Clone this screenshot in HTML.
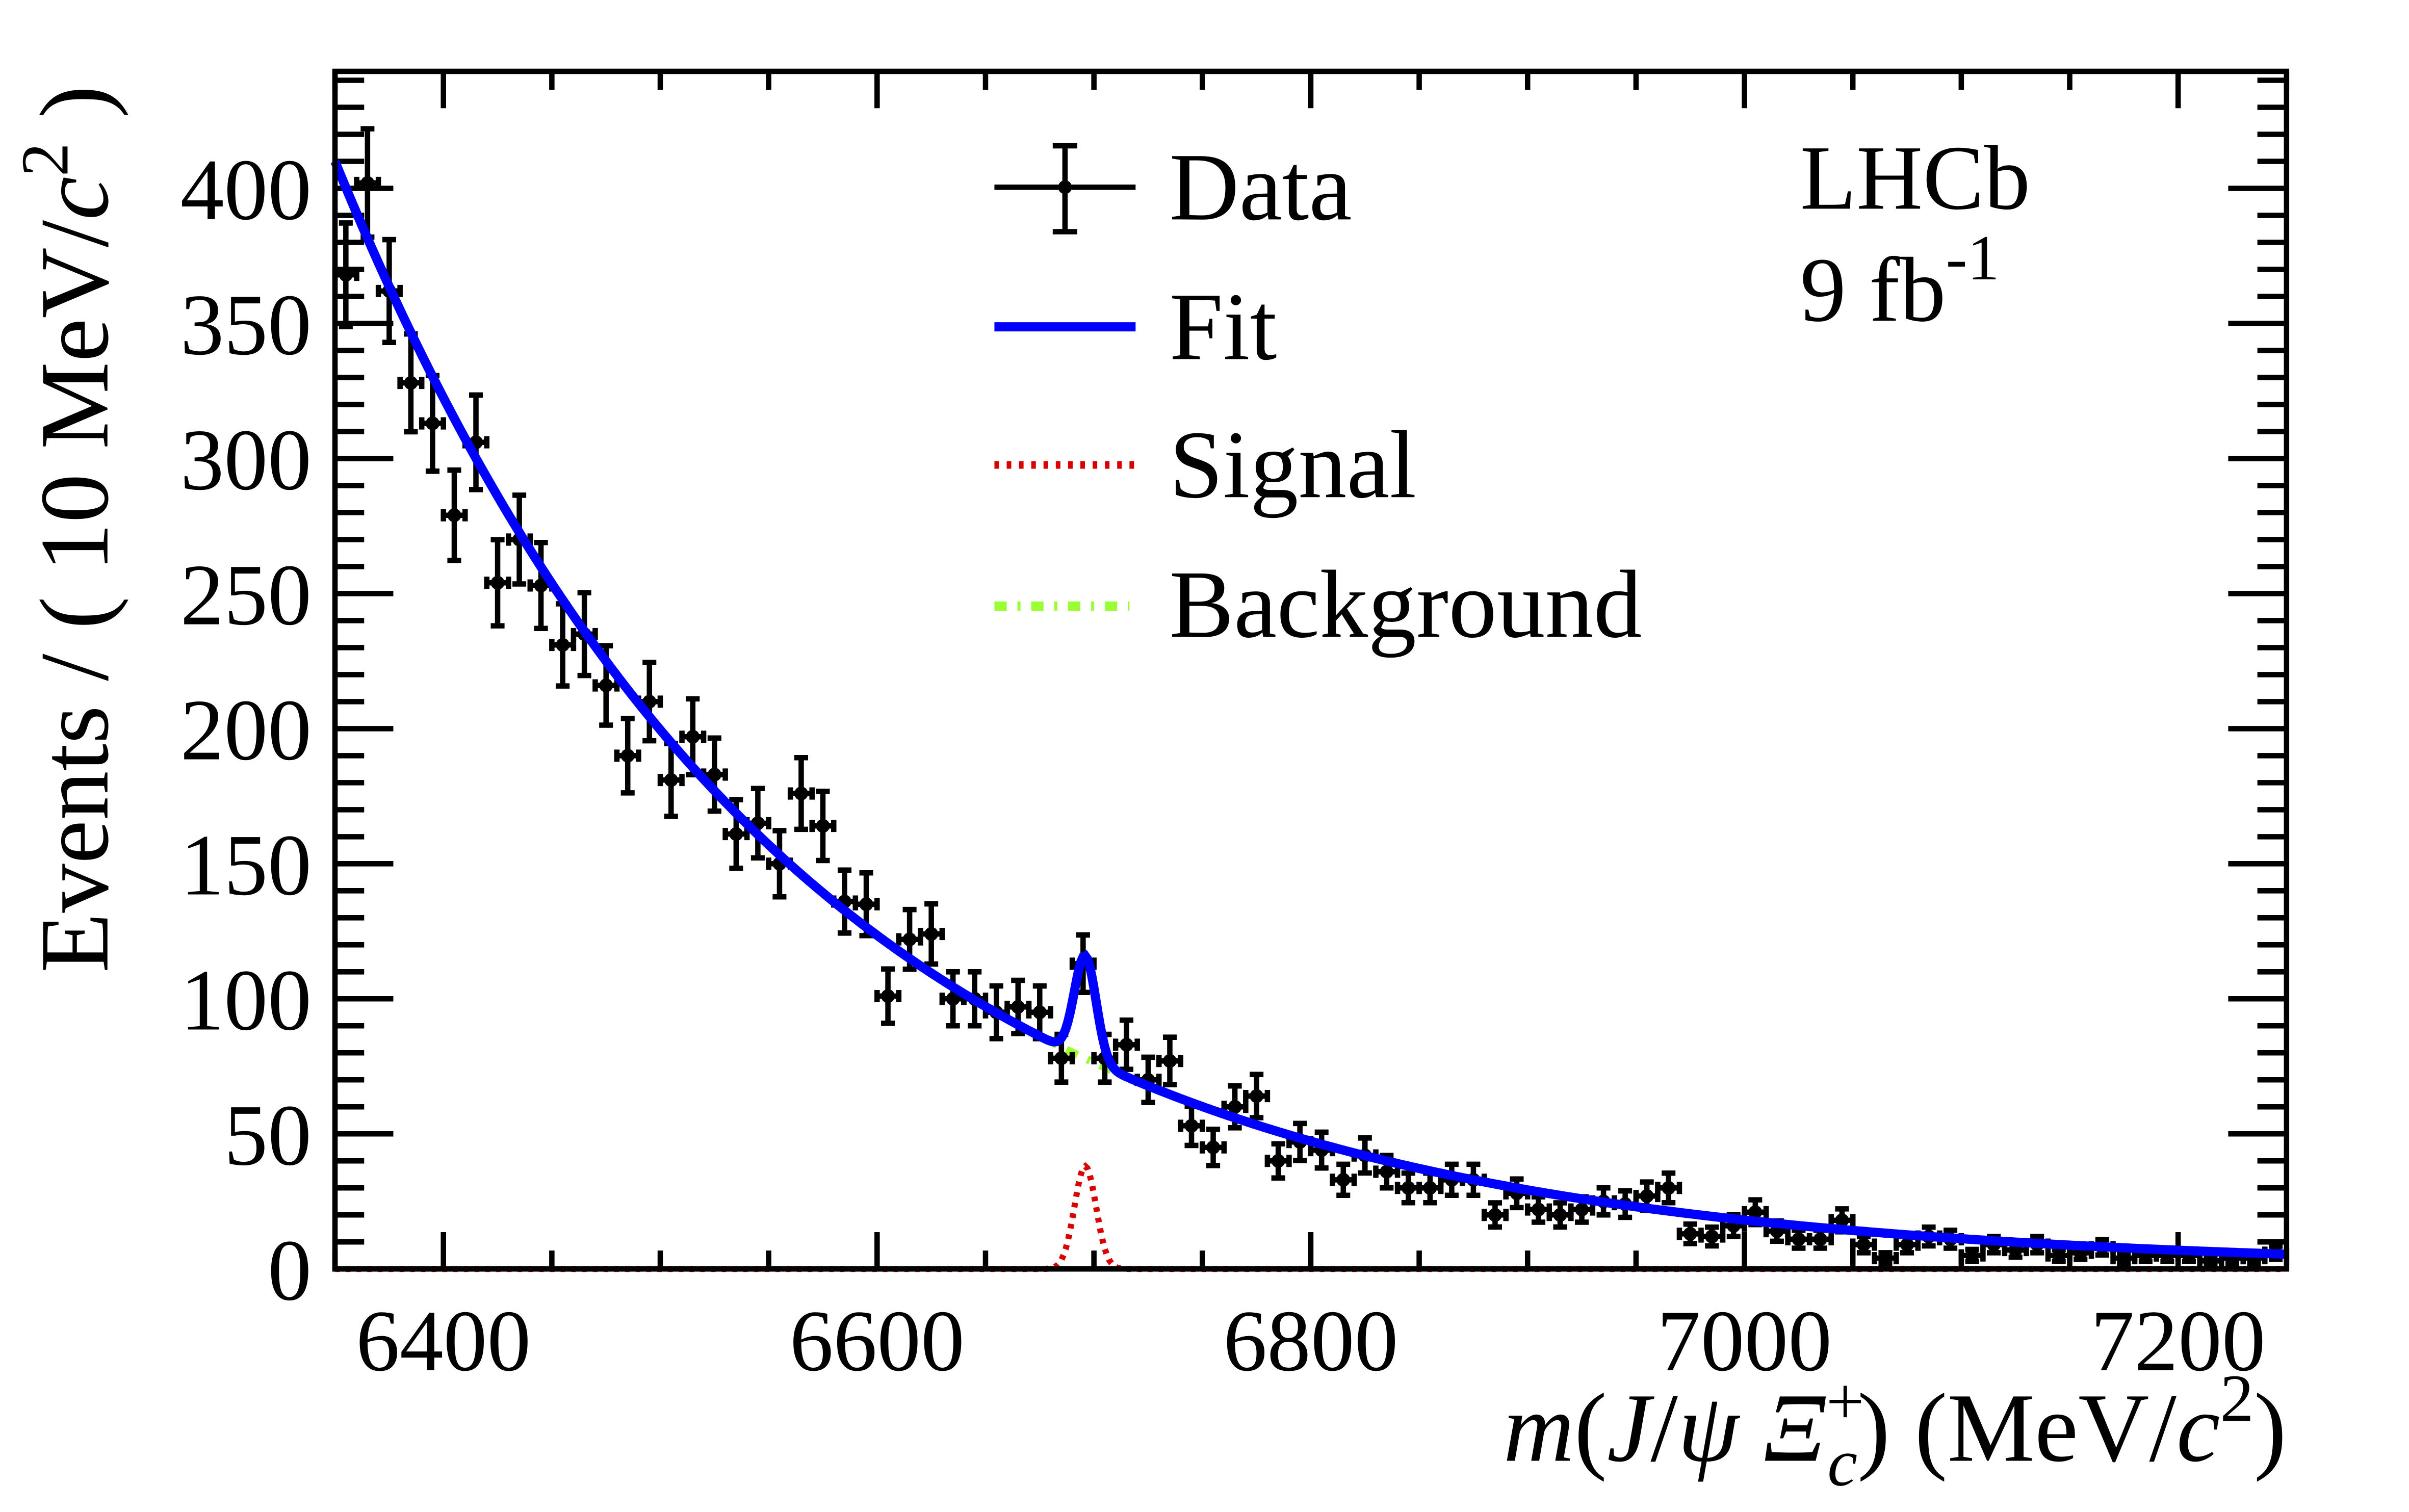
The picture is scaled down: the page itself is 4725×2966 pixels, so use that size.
<!DOCTYPE html>
<html><head><meta charset="utf-8"><style>
html,body{margin:0;padding:0;background:#fff;}
svg{display:block;}
text{font-family:"Liberation Serif",serif;fill:#000;}
</style></head><body>
<svg id="s" width="4725" height="2966" viewBox="0 0 1569.8 985.4" xmlns="http://www.w3.org/2000/svg">
<rect x="0" y="0" width="1569.8" height="985.4" fill="#fff"/>
<g id="plot"></g>
<!-- legend -->
<line x1="648" y1="122" x2="740" y2="122" stroke="#000" stroke-width="3.5"/>
<line x1="694" y1="95" x2="694" y2="151" stroke="#000" stroke-width="3.5"/>
<line x1="686" y1="95" x2="702" y2="95" stroke="#000" stroke-width="3.5"/>
<line x1="686" y1="151" x2="702" y2="151" stroke="#000" stroke-width="3.5"/>
<circle cx="694" cy="122" r="4.5" fill="#000"/>
<text x="762" y="143" font-size="63">Data</text>
<line x1="648" y1="213" x2="740" y2="213" stroke="#0000ff" stroke-width="6"/>
<text x="762" y="234" font-size="63">Fit</text>
<line x1="648" y1="303" x2="740" y2="303" stroke="#dd0000" stroke-width="5" stroke-dasharray="3,5"/>
<text x="762" y="324" font-size="63">Signal</text>
<line x1="648" y1="395" x2="736" y2="395" stroke="#99ff33" stroke-width="6" stroke-dasharray="8,7,2,7"/>
<text x="762" y="415" font-size="63">Background</text>
<text x="1173" y="136" font-size="60">LHCb</text>
<text x="1173" y="209" font-size="60">9 fb<tspan font-size="42" dy="-27">-1</tspan></text>
<!-- axis titles -->
<text transform="translate(70,634) rotate(-90)" font-size="64">Events / ( 10 MeV/<tspan font-style="italic">c</tspan><tspan font-size="44" dy="-26">2</tspan><tspan dy="26"> )</tspan></text>
<text x="1490" y="952" font-size="64" text-anchor="end"><tspan font-style="italic">m</tspan>(<tspan font-style="italic">J</tspan>/<tspan font-style="italic">ψ</tspan> <tspan font-style="italic">Ξ</tspan><tspan font-size="44" dy="-24">+</tspan><tspan font-size="44" font-style="italic" dx="-24" dy="40">c</tspan><tspan dy="-16">) (MeV/</tspan><tspan font-style="italic">c</tspan><tspan font-size="44" dy="-26">2</tspan><tspan dy="26">)</tspan></text>
</svg>
<script>
const NS="http://www.w3.org/2000/svg";
const g=document.getElementById('plot');
const L=218.3,R=1490,T=46.5,B=827;
const X=m=>L+(m-6350)*(R-L)/900;
const Y=v=>B-v*1.7606;
function el(t,a){const e=document.createElementNS(NS,t);for(const k in a)e.setAttribute(k,a[k]);g.appendChild(e);return e;}
function ln(x1,y1,x2,y2,w,c){el('line',{x1,y1,x2,y2,stroke:c||'#000','stroke-width':w});}
for(let m=6350;m<=7250;m+=50){const maj=(m%200===0);const len=maj?24:12;const x=X(m);
 ln(x,B,x,B-len,3.5);ln(x,T,x,T+len,3.5);}
for(let v=0;v<=440;v+=10){const maj=(v%50===0);const len=maj?38:19;const y=Y(v);
 ln(L,y,L+len,y,3.5);ln(R,y,R-len,y,3.5);}
for(let m=6400;m<=7200;m+=200){el('text',{x:X(m),y:893,'font-size':57,'text-anchor':'middle'}).textContent=m;}
for(let v=0;v<=400;v+=50){el('text',{x:203,y:Y(v)+20,'font-size':57,'text-anchor':'end'}).textContent=v;}
const Bk=m=>410*Math.exp(-0.0048*(m-6350));
const S=m=>38*Math.exp(-0.5*Math.pow((m-6696)/5,2));
function path(f,attrs){let d='';for(let m=6350;m<=7250;m+=1){d+=(m===6350?'M':'L')+X(m).toFixed(2)+','+Y(f(m)).toFixed(2);}attrs.d=d;attrs.fill='none';el('path',attrs);}
path(S,{stroke:'#dd0000','stroke-width':4,'stroke-dasharray':'3,4'});
path(Bk,{stroke:'#99ff33','stroke-width':5,'stroke-dasharray':'8,7,2,7'});
const d=[368,402,362,328,313,279,306,254,270,253,231,235,216,190,210,181,197,183,161,165,150,176,164,136,135,101,122,124,100,100,95,97,95,78,113,78,83,70,77,53,45,60,64,40,47,44,33,42,36,30,30,33,33,20,28,22,20,22,25,24,27,30,13,12,16,21,14,11,11,18,9,4,9,12,11,5,9,7,9,5,6,8,4,5,5,5,3,4,4,6];
d.forEach((v,i)=>{const m=6355+10*i;const x=X(m),y=Y(v);const e=Math.sqrt(v);
 const y1=Y(v+e),y2=Y(Math.max(v-e,0));
 ln(x,y1,x,y2,3.5);ln(x-4.5,y1,x+4.5,y1,3.5);if(v-e>0)ln(x-4.5,y2,x+4.5,y2,3.5);
 ln(X(m-5),y,X(m+5),y,3.5);ln(X(m-5),y-4,X(m-5),y+4,3.5);ln(X(m+5),y-4,X(m+5),y+4,3.5);
 el('circle',{cx:x,cy:y,r:4.5,fill:'#000'});});
path(m=>Bk(m)+S(m),{stroke:'#0000ff','stroke-width':6});
el('rect',{x:L,y:T,width:R-L,height:B-T,fill:'none',stroke:'#000','stroke-width':3.5});
</script>
</body></html>
